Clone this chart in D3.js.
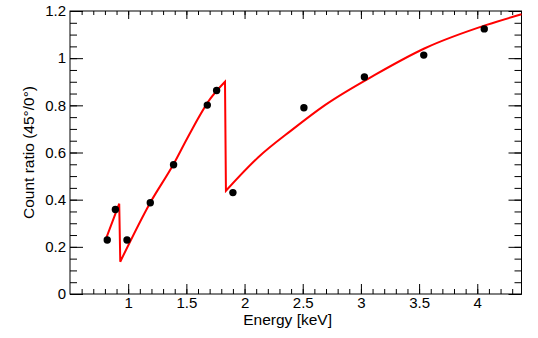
<!DOCTYPE html>
<html>
<head>
<meta charset="utf-8">
<script src="https://cdn.jsdelivr.net/npm/d3@7"></script>
<style>
  body { margin: 0; background: #fff; }
  svg { display: block; font-family: "Liberation Sans", Arial, sans-serif; }
</style>
</head>
<body>
<div id="chart"></div>
<script>
// measured points: energy (keV) and count ratio 45deg/0deg
const energy = [0.82, 0.89, 0.99, 1.19, 1.39, 1.68, 1.76, 1.9, 2.51, 3.03, 3.54, 4.06];
const ratio = [0.229, 0.358, 0.229, 0.387, 0.548, 0.801, 0.863, 0.43, 0.79, 0.92, 1.013, 1.124];

// model curve, one array per piece between the two edges
const seg1E = [0.80, 0.923];
const seg1R = [0.222, 0.383];
const seg2E = [0.932, 1.187, 1.388, 1.516, 1.703, 1.832];
const seg2R = [0.137, 0.385, 0.549, 0.668, 0.826, 0.900];
const seg3E = [1.840, 2.118, 2.405, 2.691, 3.12, 3.55, 4.08, 4.38];
const seg3R = [0.438, 0.580, 0.695, 0.801, 0.929, 1.042, 1.141, 1.186];

const xMajor = [1, 1.5, 2, 2.5, 3, 3.5, 4];
const xMinor = d3.range(6, 44).map(d => d / 10);
const yMajor = [0, 0.2, 0.4, 0.6, 0.8, 1, 1.2];
const yMinor = d3.range(0, 25).map(d => d * 0.05);

// ===============================
// Layout
// ===============================
const W = 538, H = 338;
const plot = { left: 70, right: 521.5, top: 11, bottom: 294 };

const svg = d3.select("#chart").append("svg")
    .attr("width", W)
    .attr("height", H);

const x = d3.scaleLinear().domain([0.5, 4.38]).range([plot.left, plot.right]);
const y = d3.scaleLinear().domain([0, 1.2]).range([plot.bottom, plot.top]);

const pw = plot.right - plot.left;
const ph = plot.bottom - plot.top;

function styleAxis(g) {
    g.select(".domain").remove();
    g.selectAll(".tick line").attr("stroke", "#000").attr("stroke-width", 1);
    g.selectAll("text").attr("font-size", "15px").attr("fill", "#000");
}

// minor ticks first, then majors
svg.append("g")
    .attr("transform", `translate(0,${plot.bottom})`)
    .call(d3.axisBottom(x).tickValues(xMinor).tickSize(-5).tickFormat(""))
    .call(styleAxis);
svg.append("g")
    .attr("transform", `translate(0,${plot.bottom})`)
    .call(d3.axisBottom(x).tickValues(xMajor).tickSize(-10).tickPadding(3).tickFormat(d3.format("")))
    .call(styleAxis);

svg.append("g")
    .attr("transform", `translate(0,${plot.top})`)
    .call(d3.axisTop(x).tickValues(xMinor).tickSize(-4).tickFormat(""))
    .call(styleAxis);
svg.append("g")
    .attr("transform", `translate(0,${plot.top})`)
    .call(d3.axisTop(x).tickValues(xMajor).tickSize(-8).tickFormat(""))
    .call(styleAxis);

svg.append("g")
    .attr("transform", `translate(${plot.left},0)`)
    .call(d3.axisLeft(y).tickValues(yMinor).tickSize(-7).tickFormat(""))
    .call(styleAxis);
svg.append("g")
    .attr("transform", `translate(${plot.left},0)`)
    .call(d3.axisLeft(y).tickValues(yMajor).tickSize(-13).tickPadding(4).tickFormat(d3.format("")))
    .call(styleAxis);

svg.append("g")
    .attr("transform", `translate(${plot.right},0)`)
    .call(d3.axisRight(y).tickValues(yMinor).tickSize(-7).tickFormat(""))
    .call(styleAxis);
svg.append("g")
    .attr("transform", `translate(${plot.right},0)`)
    .call(d3.axisRight(y).tickValues(yMajor).tickSize(-13).tickFormat(""))
    .call(styleAxis);

// frame
svg.append("rect")
    .attr("x", plot.left)
    .attr("y", plot.top)
    .attr("width", pw)
    .attr("height", ph)
    .attr("fill", "none")
    .attr("stroke", "#000")
    .attr("stroke-width", 1);

// model curve: smooth pieces joined by the vertical drops at the edges
const line = d3.line().x(d => x(d[0])).y(d => y(d[1])).curve(d3.curveMonotoneX);
const pieces = [[seg1E, seg1R], [seg2E, seg2R], [seg3E, seg3R]]
    .map(([es, rs]) => es.map((e, i) => [e, rs[i]]));
const pathD = pieces.map((p, i) => {
    const d = line(p);
    return i === 0 ? d : "L" + d.slice(1);
}).join("");

svg.append("path")
    .attr("d", pathD)
    .attr("fill", "none")
    .attr("stroke", "#ff0000")
    .attr("stroke-width", 2)
    .attr("stroke-linejoin", "miter");

// data points
svg.selectAll(".pt")
    .data(energy.map((e, i) => [e, ratio[i]]))
    .enter()
    .append("circle")
    .attr("class", "pt")
    .attr("cx", d => x(d[0]))
    .attr("cy", d => y(d[1]))
    .attr("r", 3.7)
    .attr("fill", "#000");

// axis titles
svg.append("text")
    .attr("x", 332)
    .attr("y", 325)
    .attr("text-anchor", "end")
    .attr("font-size", "15.5px")
    .text("Energy [keV]");

svg.append("text")
    .attr("transform", `translate(34,${(plot.top + plot.bottom) / 2}) rotate(-90)`)
    .attr("text-anchor", "middle")
    .attr("font-size", "15.5px")
    .text("Count ratio (45°/0°)");
</script>
</body>
</html>
